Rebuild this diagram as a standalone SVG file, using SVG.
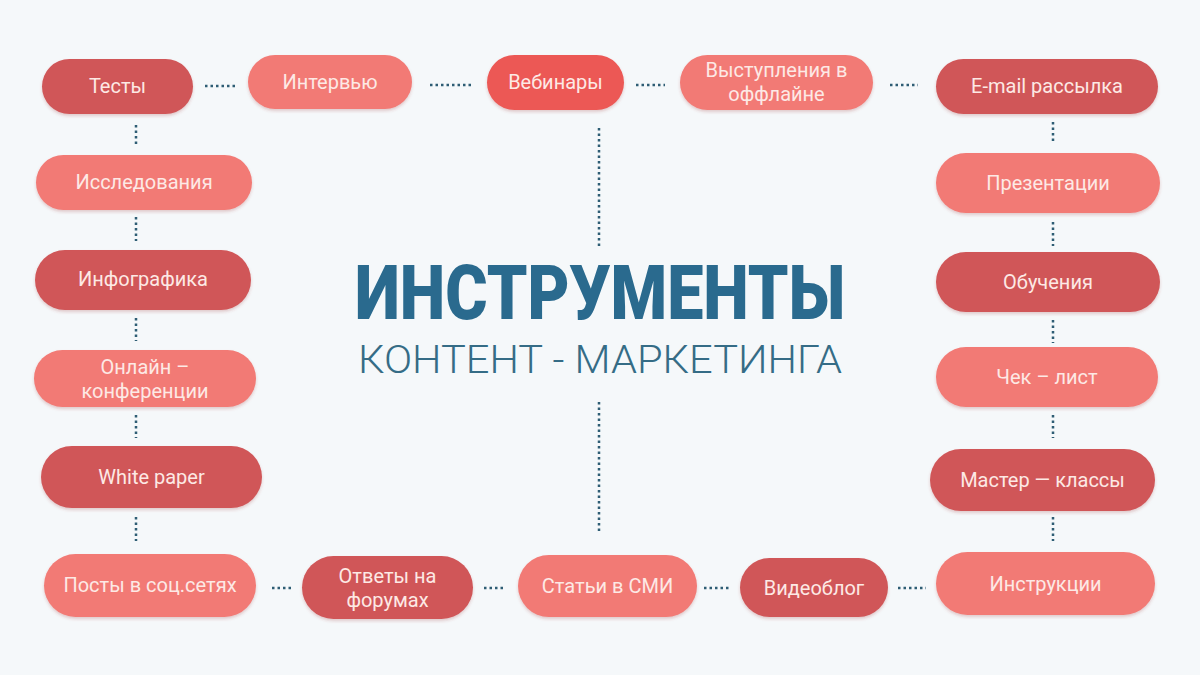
<svg xmlns="http://www.w3.org/2000/svg" width="1200" height="675" viewBox="0 0 1200 675">
<defs>
<filter id="sh" x="-10%" y="-20%" width="120%" height="150%">
<feDropShadow dx="0" dy="2" stdDeviation="1.5" flood-color="#a04040" flood-opacity="0.25"/>
</filter>
<style>
.dark{fill:#d05658;filter:url(#sh)}
.light{fill:#f27a75;filter:url(#sh)}
.bright{fill:#ec5855;filter:url(#sh)}
.t{font-family:Roboto,"Liberation Sans",sans-serif;font-size:20px;fill:#fde9e5;text-anchor:middle}
.c{stroke:#2e5d74;stroke-width:2.5;stroke-dasharray:2.5 3;fill:none}
</style>
</defs>
<rect width="1200" height="675" fill="#f5f8fa"/>
<g id="connectors">
<line class="c" x1="205" y1="86" x2="238" y2="86"/>
<line class="c" x1="430" y1="85" x2="474" y2="85"/>
<line class="c" x1="636" y1="85" x2="665" y2="85"/>
<line class="c" x1="890" y1="85" x2="918" y2="85"/>
<line class="c" x1="272" y1="588" x2="291" y2="588"/>
<line class="c" x1="484" y1="588" x2="506" y2="588"/>
<line class="c" x1="704" y1="588" x2="730" y2="588"/>
<line class="c" x1="898" y1="588" x2="926" y2="588"/>
<line class="c" x1="136" y1="125" x2="136" y2="147"/>
<line class="c" x1="136" y1="217" x2="136" y2="241"/>
<line class="c" x1="136" y1="318" x2="136" y2="341"/>
<line class="c" x1="136" y1="415" x2="136" y2="438"/>
<line class="c" x1="136" y1="517" x2="136" y2="541"/>
<line class="c" x1="1053" y1="122" x2="1053" y2="144"/>
<line class="c" x1="1053" y1="222" x2="1053" y2="246"/>
<line class="c" x1="1053" y1="320" x2="1053" y2="343"/>
<line class="c" x1="1053" y1="415" x2="1053" y2="438"/>
<line class="c" x1="1053" y1="517" x2="1053" y2="541"/>
<line class="c" x1="599" y1="128" x2="599" y2="246"/>
<line class="c" x1="599" y1="402" x2="599" y2="531"/>
</g>
<g id="title">
<text x="600" y="319" text-anchor="middle" font-family="Roboto,'Liberation Sans',sans-serif" font-weight="900" font-size="76" fill="#2a6a8e" textLength="490" lengthAdjust="spacingAndGlyphs">ИНСТРУМЕНТЫ</text>
<text x="600" y="373" text-anchor="middle" font-family="Roboto,'Liberation Sans',sans-serif" font-weight="300" font-size="38" fill="#356c86" textLength="484" lengthAdjust="spacingAndGlyphs">КОНТЕНТ - МАРКЕТИНГА</text>
</g>
<g id="n-testy"><rect class="dark" x="42" y="59" width="151" height="55" rx="27.5"/><text class="t" x="117.5" y="93">Тесты</text></g>
<g id="n-interview"><rect class="light" x="248" y="55" width="164" height="54" rx="27"/><text class="t" x="330" y="89">Интервью</text></g>
<g id="n-webinars"><rect class="bright" x="487" y="55" width="137" height="55" rx="27.5"/><text class="t" x="555.5" y="89">Вебинары</text></g>
<g id="n-offline"><rect class="light" x="680" y="55" width="193" height="55" rx="27.5"/><text class="t" x="776.5" y="77">Выступления в</text><text class="t" x="776.5" y="101">оффлайне</text></g>
<g id="n-email"><rect class="dark" x="936" y="59" width="222" height="55" rx="27.5"/><text class="t" x="1047" y="93">E-mail рассылка</text></g>
<g id="n-research"><rect class="light" x="36" y="155" width="216" height="55" rx="27.5"/><text class="t" x="144" y="189">Исследования</text></g>
<g id="n-infographic"><rect class="dark" x="35" y="250" width="216" height="60" rx="30"/><text class="t" x="143" y="286">Инфографика</text></g>
<g id="n-online"><rect class="light" x="34" y="350" width="222" height="57" rx="28.5"/><text class="t" x="145" y="374">Онлайн –</text><text class="t" x="145" y="398">конференции</text></g>
<g id="n-whitepaper"><rect class="dark" x="41" y="446" width="221" height="62" rx="31"/><text class="t" x="151.5" y="484">White paper</text></g>
<g id="n-posts"><rect class="light" x="44" y="554" width="212" height="63" rx="31.5"/><text class="t" x="150" y="592">Посты в соц.сетях</text></g>
<g id="n-forums"><rect class="dark" x="302" y="556" width="171" height="63" rx="31.5"/><text class="t" x="387.5" y="583">Ответы на</text><text class="t" x="387.5" y="607">форумах</text></g>
<g id="n-media"><rect class="light" x="518" y="555" width="179" height="62" rx="31"/><text class="t" x="607.5" y="593">Статьи в СМИ</text></g>
<g id="n-videoblog"><rect class="dark" x="740" y="558" width="148" height="59" rx="29.5"/><text class="t" x="814" y="595">Видеоблог</text></g>
<g id="n-instructions"><rect class="light" x="936" y="552" width="219" height="63" rx="31.5"/><text class="t" x="1045.5" y="591">Инструкции</text></g>
<g id="n-presentations"><rect class="light" x="936" y="153" width="224" height="60" rx="30"/><text class="t" x="1048" y="190">Презентации</text></g>
<g id="n-training"><rect class="dark" x="936" y="252" width="224" height="60" rx="30"/><text class="t" x="1048" y="289">Обучения</text></g>
<g id="n-checklist"><rect class="light" x="936" y="347" width="222" height="60" rx="30"/><text class="t" x="1047" y="384">Чек – лист</text></g>
<g id="n-master"><rect class="dark" x="930" y="449" width="225" height="62" rx="31"/><text class="t" x="1042.5" y="487">Мастер — классы</text></g>
</svg>
